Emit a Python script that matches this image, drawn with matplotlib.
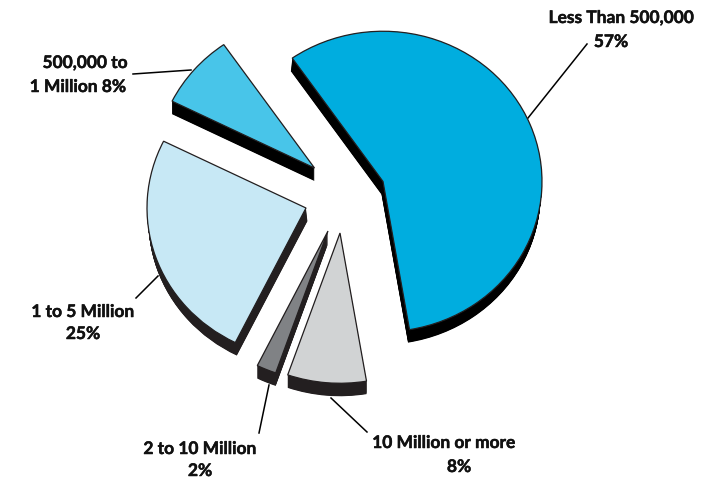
import matplotlib
matplotlib.use("Agg")
import matplotlib.pyplot as plt
import matplotlib.patheffects as pe
from matplotlib.patches import Wedge
from matplotlib.transforms import Affine2D

# Population bands and their share of the total, clockwise from the largest
categories = ["Less Than 500,000", "10 Million or more", "2 to 10 Million", "1 to 5 Million", "500,000 to 1 Million"]
shares = [57, 8, 2, 25, 8]

# Where each exploded slice has its tip, in pixels
tips = [(383, 181.5), (340, 233), (328, 231), (306, 208), (314.5, 168)]
face_colors = ["#00ADDF", "#D1D3D4", "#808285", "#C7E8F5", "#48C5E9"]
side_colors = ["#000000", "#231F20", "#231F20", "#231F20", "#000000"]
# sideways lean of each slice's side wall
side_lean = [-1.5, 0, 0, 1.5, 0]

label_lines = [
    [("Less Than 500,000", 621, 18), ("57%", 611, 42)],
    [("10 Million or more", 444, 443), ("8%", 459, 467)],
    [("2 to 10 Million", 200, 449), ("2%", 200, 471)],
    [("1 to 5 Million", 83, 312), ("25%", 83, 334)],
    [("500,000 to", 85, 63), ("1 Million 8%", 78, 87)],
]
leaders = [
    ((528, 118), (587, 44)),
    ((331, 398), (367, 432)),
    ((269, 385), (259, 433)),
    ((158, 276), (136, 298)),
    ((191, 70), (133, 74)),
]

radius = 159
squash = 0.945
depth = 13
start_angle = 124.8

fig = plt.figure(figsize=(7.23, 4.79), dpi=100)
ax = fig.add_axes([0, 0, 1, 1])
ax.set_xlim(0, 723)
ax.set_ylim(479, 0)
ax.axis("off")


def slice_patch(tip, dx, dy, theta1, theta2, **kw):
    # the y scale is negative because the axes run top to bottom
    tr = Affine2D().scale(1, -squash).translate(tip[0] + dx, tip[1] + dy) + ax.transData
    return Wedge((0, 0), radius, theta1, theta2, transform=tr, **kw)


for start, end in leaders:
    ax.plot([start[0], end[0]], [start[1], end[1]], color="#000000", lw=1.1, zorder=1)

angle = start_angle
for i in range(len(shares)):
    sweep = shares[i] * 3.6
    theta1, theta2 = angle - sweep, angle
    angle -= sweep

    # side of the slice, stacked up from copies of the top face
    steps = depth * 2
    for step in range(steps, 0, -1):
        ax.add_patch(slice_patch(tips[i], side_lean[i] * step / steps, step / 2, theta1, theta2,
                                 facecolor=side_colors[i], edgecolor="none", zorder=2))
    ax.add_patch(slice_patch(tips[i], 0, 0, theta1, theta2, facecolor=face_colors[i],
                             edgecolor="#231F20", lw=0.9, joinstyle="miter", zorder=3))

for lines in label_lines:
    for text, x, y in lines:
        ax.text(x, y, text, ha="center", va="center", fontsize=12.5, fontweight="bold",
                family="Lato", color="#111111",
                path_effects=[pe.withStroke(linewidth=0.35, foreground="#111111")])

fig.savefig("out.png", dpi=100)
